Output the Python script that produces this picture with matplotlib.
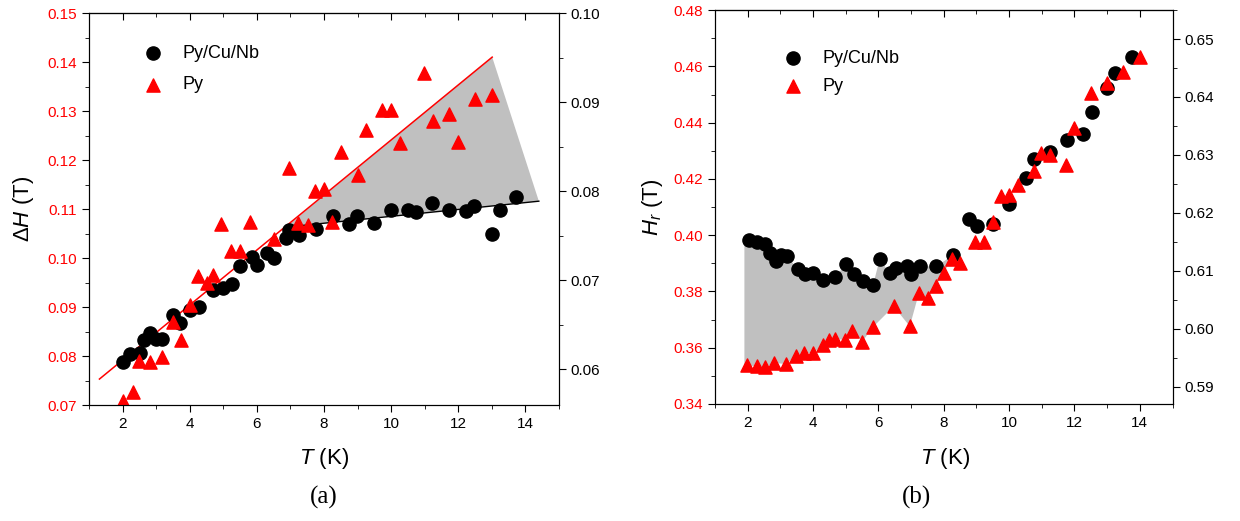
import numpy as np
import matplotlib
matplotlib.use("Agg")
import matplotlib.pyplot as plt
from matplotlib.ticker import MultipleLocator

plt.rcParams['font.family'] = ['Liberation Sans', 'DejaVu Sans']
plt.rcParams['mathtext.fontset'] = 'custom'
plt.rcParams['mathtext.rm'] = 'Liberation Sans'
plt.rcParams['mathtext.it'] = 'Liberation Sans:italic'

# ---- panel (a): linewidth dH vs T ----
Ta_nb = [2.0, 2.23, 2.51, 2.64, 2.81, 2.99, 3.16, 3.5, 3.71, 4.0, 4.27, 4.68, 4.99, 5.25,
         5.51, 5.84, 6.01, 6.31, 6.5, 6.87, 6.97, 7.25, 7.75, 8.26, 8.74, 8.98, 9.48, 9.99,
         10.49, 10.74, 11.23, 11.72, 12.22, 12.48, 12.99, 13.24, 13.73]
dH_nb = [0.0787, 0.0805, 0.0807, 0.0833, 0.0848, 0.0835, 0.0835, 0.0884, 0.0868, 0.0893,
         0.0901, 0.0934, 0.0939, 0.0947, 0.0984, 0.1003, 0.0986, 0.1010, 0.1001, 0.1040,
         0.1057, 0.1048, 0.1059, 0.1086, 0.1069, 0.1086, 0.1071, 0.1099, 0.1099, 0.1093,
         0.1112, 0.1099, 0.1096, 0.1106, 0.1049, 0.1098, 0.1124]
Ta_py = [2.0, 2.31, 2.49, 2.81, 3.17, 3.49, 3.73, 4.0, 4.25, 4.5, 4.7, 4.94, 5.22, 5.51,
         5.81, 6.5, 6.95, 7.24, 7.52, 7.74, 8.01, 8.25, 8.5, 9.0, 9.25, 9.74, 9.99, 10.25,
         10.99, 11.24, 11.73, 12.0, 12.5, 13.01]
dH_py = [0.0708, 0.0726, 0.0790, 0.0788, 0.0799, 0.0870, 0.0833, 0.0904, 0.0963, 0.0950,
         0.0965, 0.1069, 0.1014, 0.1014, 0.1074, 0.1039, 0.1183, 0.1072, 0.1067, 0.1137,
         0.1141, 0.1074, 0.1217, 0.1169, 0.1261, 0.1302, 0.1302, 0.1235, 0.1378, 0.1280,
         0.1293, 0.1237, 0.1324, 0.1333]
# linear guide lines (T, dH end points)
red_fit_T = [1.31, 13.01]
red_fit_H = [0.0753, 0.1410]
blk_fit_T = [6.86, 14.4]
blk_fit_H = [0.1063, 0.1116]

# ---- panel (b): resonance field Hr vs T ----
Tb_nb = [2.03, 2.28, 2.54, 2.69, 2.86, 3.02, 3.2, 3.53, 3.76, 4.01, 4.29, 4.67, 5.02, 5.25,
         5.53, 5.84, 6.04, 6.34, 6.55, 6.88, 7.01, 7.27, 7.77, 8.27, 8.76, 9.02, 9.51, 10.01,
         10.51, 10.77, 11.25, 11.76, 12.25, 12.53, 13.0, 13.24, 13.75]
Hr_nb = [0.3983, 0.3974, 0.3968, 0.3936, 0.3909, 0.3930, 0.3927, 0.3879, 0.3863, 0.3867,
         0.3839, 0.3851, 0.3898, 0.3863, 0.3836, 0.3824, 0.3915, 0.3865, 0.3885, 0.3892,
         0.3863, 0.3889, 0.3889, 0.3928, 0.4056, 0.4032, 0.4040, 0.4110, 0.4203, 0.4272,
         0.4294, 0.4339, 0.4359, 0.4437, 0.4522, 0.4576, 0.4635]
Tb_py = [1.98, 2.28, 2.54, 2.81, 3.17, 3.47, 3.73, 4.01, 4.29, 4.5, 4.67, 4.97, 5.2, 5.51,
         5.83, 6.47, 6.96, 7.24, 7.51, 7.75, 8.0, 8.25, 8.49, 8.97, 9.24, 9.5, 9.75, 10.0,
         10.26, 10.75, 10.99, 11.24, 11.75, 11.99, 12.5, 12.99, 13.49, 14.0]
Hr_py = [0.3537, 0.3534, 0.3530, 0.3546, 0.3542, 0.3569, 0.3581, 0.3581, 0.3608, 0.3628,
         0.3631, 0.3628, 0.3660, 0.3622, 0.3673, 0.3747, 0.3676, 0.3794, 0.3776, 0.3820,
         0.3867, 0.3916, 0.3901, 0.3974, 0.3974, 0.4048, 0.4139, 0.4144, 0.4180, 0.4227,
         0.4292, 0.4286, 0.4251, 0.4381, 0.4505, 0.4542, 0.4581, 0.4635]
shade_end_T = 8.3

fig = plt.figure(figsize=(12.4, 5.21), dpi=100)
axA = fig.add_axes([0.0718, 0.2226, 0.379, 0.7524])
axB = fig.add_axes([0.5766, 0.2246, 0.369, 0.756])

msz = 90
grey = '#c0c0c0'


def style(ax, ax2):
    ax.set_xlim(1, 15)
    ax.xaxis.set_major_locator(MultipleLocator(2))
    ax.xaxis.set_minor_locator(MultipleLocator(1))
    ax.tick_params(axis='x', which='both', direction='out', labelsize=11)
    ax.tick_params(axis='x', which='major', length=5)
    ax.tick_params(axis='x', which='minor', length=3)
    ax.tick_params(axis='y', which='major', direction='out', length=5,
                   labelsize=11, labelcolor='red')
    ax.tick_params(axis='y', which='minor', direction='out', length=3)
    # top axis: ticks pointing inwards, no labels
    top = ax.secondary_xaxis('top')
    top.xaxis.set_major_locator(MultipleLocator(2))
    top.xaxis.set_minor_locator(MultipleLocator(1))
    top.tick_params(which='both', direction='in', labeltop=False)
    top.tick_params(which='major', length=5)
    top.tick_params(which='minor', length=3)
    ax2.tick_params(axis='y', which='major', direction='out', length=5, labelsize=11)
    ax2.tick_params(axis='y', which='minor', direction='out', length=3)


# ---- panel (a)
axA.fill([blk_fit_T[0], red_fit_T[1], blk_fit_T[1]],
         [blk_fit_H[0], red_fit_H[1], blk_fit_H[1]], color=grey, lw=0, zorder=1)
axA.plot(red_fit_T, red_fit_H, color='red', lw=1.1, zorder=2)
axA.plot(blk_fit_T, blk_fit_H, color='black', lw=1.0, zorder=2)
axA.scatter(Ta_nb, dH_nb, s=msz, marker='o', color='black', zorder=3, label='Py/Cu/Nb')
axA.scatter(Ta_py, dH_py, s=msz, marker='^', color='red', zorder=3, label='Py')
axA.set_ylim(0.07, 0.15)
axA.yaxis.set_major_locator(MultipleLocator(0.01))
axA.yaxis.set_minor_locator(MultipleLocator(0.005))
axA.yaxis.set_major_formatter(plt.FormatStrFormatter('%.2f'))
axA2 = axA.twinx()
axA2.set_ylim(0.056, 0.10)
axA2.yaxis.set_major_locator(MultipleLocator(0.01))
axA2.yaxis.set_minor_locator(MultipleLocator(0.005))
axA2.yaxis.set_major_formatter(plt.FormatStrFormatter('%.2f'))
style(axA, axA2)
axA.legend(loc='upper left', bbox_to_anchor=(0.083, 0.937), frameon=False, fontsize=13,
           handletextpad=0.6, labelspacing=0.8, borderaxespad=0)
axA.set_ylabel(r'$\Delta\mathit{H}$ (T)', fontsize=16)
axA.yaxis.set_label_coords(-0.112, 0.5)

# ---- panel (b)
top_pts = [(t, h) for t, h in zip(Tb_nb, Hr_nb) if t <= shade_end_T]
bot_pts = [(t, h) for t, h in zip(Tb_py, Hr_py) if t <= shade_end_T]
poly_T = [1.9] + [p[0] for p in top_pts] + [p[0] for p in bot_pts[::-1]] + [1.9]
poly_H = [top_pts[0][1]] + [p[1] for p in top_pts] + [p[1] for p in bot_pts[::-1]] + [bot_pts[0][1]]
axB.fill(poly_T, poly_H, color=grey, lw=0, zorder=1)
axB.scatter(Tb_nb, Hr_nb, s=msz, marker='o', color='black', zorder=3, label='Py/Cu/Nb')
axB.scatter(Tb_py, Hr_py, s=msz, marker='^', color='red', zorder=3, label='Py')
axB.set_ylim(0.34, 0.48)
axB.yaxis.set_major_locator(MultipleLocator(0.02))
axB.yaxis.set_minor_locator(MultipleLocator(0.01))
axB.yaxis.set_major_formatter(plt.FormatStrFormatter('%.2f'))
axB2 = axB.twinx()
axB2.set_ylim(0.587, 0.655)
axB2.yaxis.set_major_locator(MultipleLocator(0.01))
axB2.yaxis.set_minor_locator(MultipleLocator(0.005))
axB2.yaxis.set_major_formatter(plt.FormatStrFormatter('%.2f'))
style(axB, axB2)
axB.legend(loc='upper left', bbox_to_anchor=(0.116, 0.917), frameon=False, fontsize=13,
           handletextpad=0.6, labelspacing=0.6, borderaxespad=0)
axB.set_ylabel(r'$\mathit{H}_\mathit{r}$ (T)', fontsize=16)
axB.yaxis.set_label_coords(-0.11, 0.5)

# axis titles and panel tags
for xc in (0.261, 0.762):
    fig.text(xc, 0.12, r'$\mathit{T}$ (K)', fontsize=16, ha='center', va='center')
fig.text(0.261, 0.045, '(a)', fontsize=18, ha='center', va='center',
         family=['Liberation Serif', 'DejaVu Serif'])
fig.text(0.739, 0.045, '(b)', fontsize=18, ha='center', va='center',
         family=['Liberation Serif', 'DejaVu Serif'])

fig.savefig('out.png', dpi=100)
